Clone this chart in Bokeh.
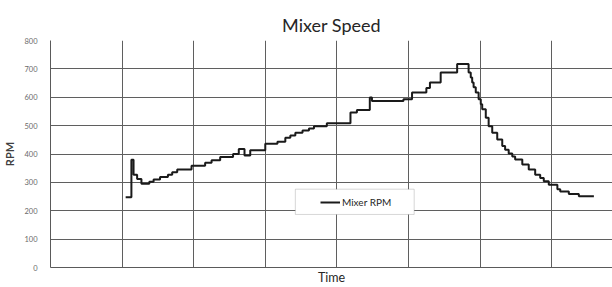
from bokeh.plotting import figure
from bokeh.models import Range1d, FixedTicker, Legend, LegendItem, BoxAnnotation, ColumnDataSource
from bokeh.embed import file_html
from bokeh.resources import INLINE

# Time in grid divisions (no tick labels on the reference), RPM values
time = [1.05, 1.13, 1.16, 1.21, 1.27, 1.38, 1.44, 1.53, 1.64, 1.70, 1.77, 1.97, 2.16, 2.25,
        2.37, 2.55, 2.63, 2.71, 2.79, 3.00, 3.17, 3.28, 3.35, 3.42, 3.52, 3.61, 3.68, 3.86,
        4.19, 4.28, 4.46, 4.49, 4.93, 5.05, 5.25, 5.30, 5.45, 5.68, 5.84, 5.87, 5.89, 5.91,
        5.94, 5.98, 6.01, 6.03, 6.08, 6.12, 6.17, 6.24, 6.31, 6.35, 6.40, 6.45, 6.49, 6.59,
        6.68, 6.77, 6.84, 6.89, 6.96, 7.08, 7.12, 7.24, 7.38, 7.59]
rpm = [248, 380, 327, 312, 295, 302, 310, 319, 327, 336, 345, 359, 369, 378,
       389, 400, 418, 395, 413, 436, 443, 457, 465, 475, 483, 490, 498, 508,
       546, 555, 599, 587, 593, 617, 633, 652, 687, 717, 687, 670, 652, 635,
       617, 593, 575, 558, 528, 498, 475, 451, 428, 415, 402, 391, 381, 363,
       345, 327, 315, 304, 292, 276, 268, 259, 251, 251]
y_ticks = [0, 100, 200, 300, 400, 500, 600, 700, 800]
x_grid = [0, 1, 2, 3, 4, 5, 6, 7, 8]

src = ColumnDataSource(dict(t=time, rpm=rpm))

FONT = "Lato"
p = figure(width=612, height=287, output_backend="svg", toolbar_location=None,
           x_range=Range1d(0, 7.85), y_range=Range1d(0, 800),
           min_border_left=42, min_border_right=0, min_border_top=40, min_border_bottom=10)

p.title.text = "Mixer Speed"
p.title.align = "center"
p.title.offset = -16
p.title.standoff = 10
p.title.text_line_height = 1.4
p.title.text_font = FONT
p.title.text_font_size = "18px"
p.title.text_font_style = "normal"
p.title.text_color = "#262626"

p.outline_line_color = None
p.background_fill_color = "white"

# y axis
p.yaxis.ticker = FixedTicker(ticks=y_ticks)
p.yaxis.major_tick_line_color = None
p.yaxis.minor_tick_line_color = None
p.yaxis.axis_line_color = "#5a5a5a"
p.yaxis.major_label_text_font = FONT
p.yaxis.major_label_text_font_size = "7.5px"
p.yaxis.major_label_text_color = "#6a6a6a"
p.yaxis.major_label_standoff = 7
p.yaxis.axis_label = "RPM"
p.yaxis.axis_label_text_font = FONT
p.yaxis.axis_label_text_font_size = "11px"
p.yaxis.axis_label_text_font_style = "bold"
p.yaxis.axis_label_text_color = "#404040"
p.yaxis.axis_label_standoff = 5

# x axis: no tick labels, only the title "Time"
p.xaxis.ticker = FixedTicker(ticks=[])
p.xaxis.major_tick_line_color = None
p.xaxis.minor_tick_line_color = None
p.xaxis.major_label_standoff = 0
p.xaxis.axis_line_color = "#5a5a5a"
p.xaxis.axis_label = "Time"
p.xaxis.axis_label_text_font = FONT
p.xaxis.axis_label_text_font_size = "12.5px"
p.xaxis.axis_label_text_font_style = "normal"
p.xaxis.axis_label_text_color = "#262626"
p.xaxis.axis_label_standoff = 2

p.xgrid.ticker = FixedTicker(ticks=x_grid)
p.ygrid.ticker = FixedTicker(ticks=y_ticks)
p.grid.grid_line_color = "#5f5f5f"
p.grid.grid_line_width = 1

r = p.step(x="t", y="rpm", source=src, mode="after", line_color="#1a1a1a", line_width=2)

# legend box (Excel-style)
box = BoxAnnotation(left=3.42, right=5.08, bottom=187, top=276,
                    fill_color="white", fill_alpha=1, line_color="#7a7a7a", line_width=1)
p.add_layout(box)

legend = Legend(items=[LegendItem(label="Mixer RPM", renderers=[r])],
                location=(270, 55), border_line_color=None, background_fill_alpha=0,
                glyph_width=20, glyph_height=20, label_standoff=2, padding=0, margin=0,
                label_text_font=FONT, label_text_font_size="10px", label_text_color="#262626")
p.add_layout(legend)

open("out.html", "w").write(file_html(p, INLINE))
